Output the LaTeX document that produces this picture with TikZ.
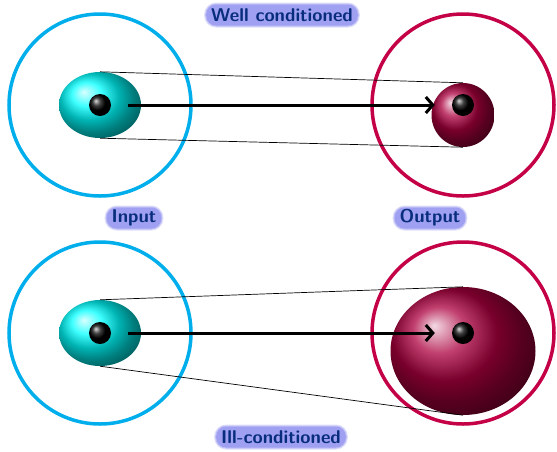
\documentclass[tikz,border=0pt]{standalone}
\usetikzlibrary{shapes.geometric,arrows.meta}
\definecolor{ringcyan}{RGB}{0,174,236}
\definecolor{ringred}{RGB}{196,0,70}
\definecolor{maroonball}{RGB}{172,0,62}
\definecolor{labeltext}{RGB}{8,45,125}
\definecolor{labelfill}{RGB}{150,150,240}
\tikzset{
  ring/.style={line width=3.5pt},
  inball/.style={ellipse, inner sep=0pt, minimum width=82pt, minimum height=66pt, shading=ball, ball color=cyan},
  outball/.style={ellipse, inner sep=0pt, shading=ball, ball color=maroonball},
  dot/.style={circle, inner sep=0pt, minimum size=22pt, shading=ball, ball color=black},
  tangent/.style={line width=0.7pt},
  mapping/.style={line width=3pt, -{Straight Barb[length=7pt,width=16pt]}, shorten <=17pt, shorten >=17pt},
  tag/.style={font=\fontsize{18.5}{22}\sffamily\bfseries, text=labeltext, rounded corners=10pt, inner xsep=5pt, inner ysep=2pt, minimum height=21pt,
    preaction={fill=labelfill!30, draw=labelfill!30, line width=4pt},
    preaction={fill=labelfill!60, draw=labelfill!60, line width=2pt},
    fill=labelfill!90}
}
\begin{document}
\begin{tikzpicture}[x=1pt,y=-1pt]
\useasboundingbox (0,0) rectangle (557,451);
% rings
\draw[ring, ringcyan] (100,105) circle (91);
\draw[ring, ringred] (463,105) circle (91);
\draw[ring, ringcyan] (100,333) circle (91);
\draw[ring, ringred] (463,333) circle (91);
% balls
\node[inball] (in1) at (100,105) {};
\node[outball, minimum width=63pt, minimum height=64pt] (out1) at (463,115) {};
\node[inball] (in2) at (100,333) {};
\node[outball, minimum width=145pt, minimum height=128pt] (out2) at (463,351) {};
% tangents
\draw[tangent] (in1.north) -- (out1.north);
\draw[tangent] (in1.south) -- (out1.south);
\draw[tangent] (in2.north) -- (out2.north);
\draw[tangent] (in2.south) -- (out2.south);
% dots
\node[dot] (a1) at (100,105) {};
\node[dot] (b1) at (463,105) {};
\node[dot] (a2) at (100,333) {};
\node[dot] (b2) at (463,333) {};
\draw[mapping] (a1) -- (b1);
\draw[mapping] (a2) -- (b2);
% labels
\node[tag] (t1) at (282,15) {Well conditioned};
\node[tag] (t2) at (134,218) {Input};
\node[tag] (t3) at (430,218) {Output};
\node[tag] (t4) at (281,437) {Ill-conditioned};
\end{tikzpicture}
\end{document}
